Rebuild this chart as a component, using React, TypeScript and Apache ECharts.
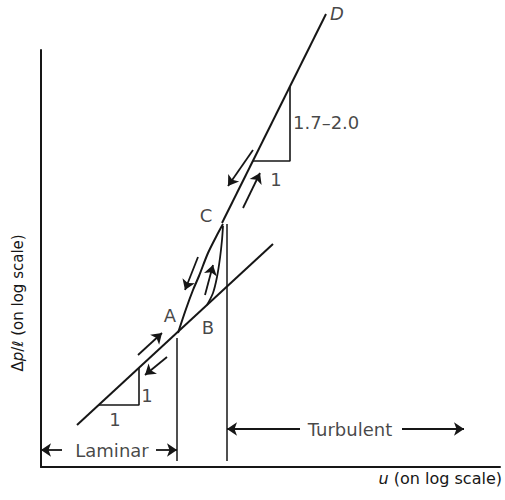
import React, { useEffect, useRef } from "react";
import * as echarts from "echarts";

// Coordinates in log-units (x: log u, y: log Δp/ℓ)
const laminarLine: [number, number][] = [[0.36, 0.42], [2.32, 2.23]];
const turbulentLine: [number, number][] = [[1.81, 2.44], [2.85, 4.53]];
const outerCurve: [number, number][] = [
  [1.37, 1.34], [1.45, 1.58], [1.52, 1.77], [1.58, 1.91], [1.67, 2.14], [1.76, 2.32], [1.82, 2.43],
];
const innerCurve: [number, number][] = [
  [1.66, 1.62], [1.72, 1.74], [1.76, 1.9], [1.79, 2.09], [1.81, 2.27], [1.82, 2.41],
];
const laminarTriangle: [number, number][] = [[0.58, 0.62], [0.98, 0.62], [0.98, 0.99]];
const turbulentTriangle: [number, number][] = [[2.12, 3.06], [2.49, 3.06], [2.49, 3.8]];
const laminarBoundary: [number, number][] = [[1.36, 1.29], [1.36, 0.06]];
const turbulentBoundary: [number, number][] = [[1.86, 2.43], [1.86, 0.06]];

const flowArrows: [number, number][][] = [
  [[0.97, 1.12], [1.21, 1.34]],
  [[1.26, 1.1], [1.04, 0.92]],
  [[1.57, 2.1], [1.44, 1.77]],
  [[1.64, 1.72], [1.72, 2.02]],
  [[2.12, 3.17], [1.87, 2.81]],
  [[2.02, 2.59], [2.19, 2.94]],
];
const regimeArrows: [number, number][][] = [
  [[0.21, 0.17], [0.0, 0.17]],
  [[1.15, 0.17], [1.36, 0.17]],
  [[2.59, 0.38], [1.86, 0.38]],
  [[3.61, 0.38], [4.23, 0.38]],
];

const pointLabels = ["A", "B", "C", "D"];
const pointLabelPos: [number, number][] = [[1.29, 1.52], [1.67, 1.4], [1.65, 2.52], [2.96, 4.54]];
const slopeLabels = ["1", "1", "1", "1.7–2.0"];
const slopeLabelPos: [number, number][] = [[1.06, 0.72], [0.74, 0.48], [2.35, 2.88], [2.52, 3.45]];
const regimeLabels = ["Laminar", "Turbulent"];
const regimeLabelPos: [number, number][] = [[0.71, 0.17], [3.09, 0.38]];

const FONT = "DejaVu Sans";
const INK = "#161616";

export default function App() {
  const ref = useRef<HTMLDivElement>(null);
  useEffect(() => {
    document.body.style.margin = "0";
    const chart = echarts.init(ref.current!, null, { renderer: "svg" });
    const lineSeries = (data: [number, number][], width: number, smooth: number | boolean = false) => ({
      type: "line",
      data,
      symbol: "none",
      smooth,
      clip: false,
      silent: true,
      lineStyle: { color: INK, width },
    });
    const labelSeries = (names: string[], pos: [number, number][], extra: any = {}) => ({
      type: "scatter",
      clip: false,
      silent: true,
      symbolSize: 0,
      data: names.map((n, i) => ({ value: pos[i], name: n })),
      label: {
        show: true,
        position: "inside",
        formatter: "{b}",
        color: INK,
        fontFamily: FONT,
        fontSize: 18,
        ...extra,
      },
    });
    const arrowSeries = (arr: [number, number][][]) => ({
      type: "lines",
      coordinateSystem: "cartesian2d",
      silent: true,
      symbol: ["none", "arrow"],
      symbolSize: [8, 10],
      lineStyle: { color: INK, width: 1.8, opacity: 1 },
      data: arr.map((c) => ({ coords: c })),
    });
    chart.setOption({
      animation: false,
      backgroundColor: "#ffffff",
      grid: { left: 41, right: 5, top: 50, bottom: 33 },
      xAxis: {
        type: "value",
        min: 0,
        max: 4.59,
        axisLine: { show: true, lineStyle: { color: INK, width: 2 } },
        axisTick: { show: false },
        axisLabel: { show: false },
        splitLine: { show: false },
      },
      yAxis: {
        type: "value",
        min: 0,
        max: 4.17,
        axisLine: { show: true, lineStyle: { color: INK, width: 2 } },
        axisTick: { show: false },
        axisLabel: { show: false },
        splitLine: { show: false },
      },
      graphic: [
        {
          type: "text",
          right: 3,
          top: 470,
          style: {
            text: "{i|u} (on log scale)",
            fill: INK,
            font: `16px "${FONT}"`,
            rich: { i: { fontStyle: "italic", fontFamily: FONT, fontSize: 16, fill: INK } },
          },
        },
        {
          type: "text",
          x: 18,
          y: 303,
          rotation: Math.PI / 2,
          style: {
            text: "Δ{i|p}/ℓ (on log scale)",
            fill: INK,
            align: "center",
            verticalAlign: "middle",
            font: `15px "${FONT}"`,
            rich: { i: { fontStyle: "italic", fontFamily: FONT, fontSize: 15, fill: INK } },
          },
        },
      ],
      series: [
        lineSeries(laminarLine, 2),
        lineSeries(turbulentLine, 2),
        lineSeries(outerCurve, 2, 0.3),
        lineSeries(innerCurve, 1.8, 0.3),
        lineSeries(laminarTriangle, 1.6),
        lineSeries(turbulentTriangle, 1.6),
        lineSeries(laminarBoundary, 1.5),
        lineSeries(turbulentBoundary, 1.5),
        arrowSeries(flowArrows),
        arrowSeries(regimeArrows),
        labelSeries(pointLabels.slice(0, 3), pointLabelPos.slice(0, 3)),
        labelSeries(pointLabels.slice(3), pointLabelPos.slice(3), { fontStyle: "italic" }),
        labelSeries(slopeLabels.slice(0, 3), slopeLabelPos.slice(0, 3)),
        labelSeries(slopeLabels.slice(3), slopeLabelPos.slice(3), { align: "left" }),
        labelSeries(regimeLabels, regimeLabelPos),
      ],
    });
    return () => chart.dispose();
  }, []);
  return <div ref={ref} style={{ width: 505, height: 500 }} />;
}
